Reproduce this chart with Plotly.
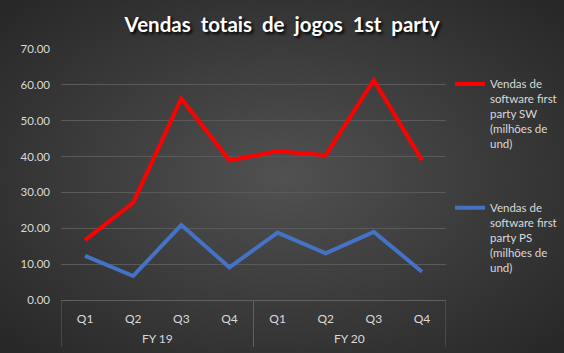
import base64
import plotly.graph_objects as go

fy = ["FY 19"] * 4 + ["FY 20"] * 4
quarters = ["Q1", "Q2", "Q3", "Q4", "Q1", "Q2", "Q3", "Q4"]
sw_sales = [16.7, 27.1, 56.2, 38.9, 41.5, 40.4, 61.3, 39.0]
ps_sales = [12.3, 6.7, 20.9, 9.1, 18.8, 13.0, 19.0, 7.9]
y_ticks = [0, 10, 20, 30, 40, 50, 60, 70]
sw_name = "Vendas de<br>software first<br>party SW<br>(milhões de<br>und)"
ps_name = "Vendas de<br>software first<br>party PS<br>(milhões de<br>und)"
title_text = "Vendas\u00a0 totais\u00a0 de\u00a0 jogos\u00a0 1st\u00a0 party"

W, H = 564, 353
L, R, T, B = 61, 118, 49, 53
pw, ph = W - L - R, H - T - B

svg = (
    f'<svg xmlns="http://www.w3.org/2000/svg" width="{W}" height="{H}" preserveAspectRatio="none">'
    '<defs><radialGradient id="g" cx="50%" cy="50%" r="65%">'
    '<stop offset="0" stop-color="#515151"/><stop offset="1" stop-color="#282828"/>'
    '</radialGradient></defs><rect width="100%" height="100%" fill="url(#g)"/></svg>'
)
src = "data:image/svg+xml;base64," + base64.b64encode(svg.encode()).decode()

FONT = "Lato"
TXT = "#d9d9d9"
AXC = "#606060"

xi = list(range(len(quarters)))

fig = go.Figure()
fig.add_trace(go.Scatter(x=xi, y=sw_sales, mode="lines", name=sw_name, legendgroup="sw",
                         line=dict(color="#ff0000", width=4)))
fig.add_trace(go.Scatter(x=xi, y=ps_sales, mode="lines", name=ps_name, legendgroup="ps",
                         line=dict(color="#4472c4", width=4)))

# group boundaries and labels for fiscal years
groups = []
for i, g in enumerate(fy):
    if not groups or groups[-1][0] != g:
        groups.append([g, i, i])
    else:
        groups[-1][2] = i

shapes = []
bounds = sorted({g[1] - 0.5 for g in groups} | {g[2] + 0.5 for g in groups})
for b in bounds:
    shapes.append(dict(type="line", xref="x", yref="paper", x0=b, x1=b,
                       y0=0, y1=-47 / ph, line=dict(color=AXC, width=1)))
annotations = []
for g, a, b in groups:
    annotations.append(dict(text=g, x=(a + b) / 2, xref="x", y=-38 / ph, yref="paper",
                            showarrow=False, yanchor="middle",
                            font=dict(family=FONT, size=12, color=TXT)))

fig.update_layout(
    width=W, height=H,
    margin=dict(l=L, r=R, t=T, b=B, pad=0, autoexpand=False),
    paper_bgcolor="#2a2a2a",
    plot_bgcolor="rgba(0,0,0,0)",
    images=[dict(source=src, xref="paper", yref="paper",
                 x=-(L + 10) / pw, y=1 + (T + 10) / ph, sizex=(W + 20) / pw, sizey=(H + 20) / ph,
                 xanchor="left", yanchor="top", sizing="stretch", layer="below")],
    title=dict(text=title_text, x=0.5, xanchor="center", y=1 - 25 / H, yanchor="middle",
               font=dict(family=FONT, size=20.5, color="#ffffff", weight="bold",
                         shadow="2px 2px 3px #000000")),
    font=dict(family=FONT, size=12, color=TXT),
    legend=dict(x=(L + pw + 4) / W, xref="container", xanchor="left",
                y=1 - (T + 21) / H, yref="container", yanchor="top",
                tracegroupgap=46, font=dict(family=FONT, size=11.5, color=TXT),
                bgcolor="rgba(0,0,0,0)", valign="top", itemwidth=30, maxheight=320),
    showlegend=True,
    shapes=shapes,
    annotations=annotations,
    xaxis=dict(range=[-0.5, len(quarters) - 0.5], tickvals=xi, ticktext=quarters,
               showgrid=False, showline=True, linecolor=AXC, linewidth=1,
               zeroline=False, ticks="", ticklabelstandoff=8,
               tickfont=dict(color=TXT, size=12)),
    yaxis=dict(range=[0, 70], tickvals=y_ticks, tickformat=".2f",
               showgrid=True, gridcolor="#5a5a5a", gridwidth=1,
               zeroline=False, showline=False, ticks="", ticklabelstandoff=10,
               tickfont=dict(color=TXT, size=11.5)),
)

fig.write_html("out.html")
